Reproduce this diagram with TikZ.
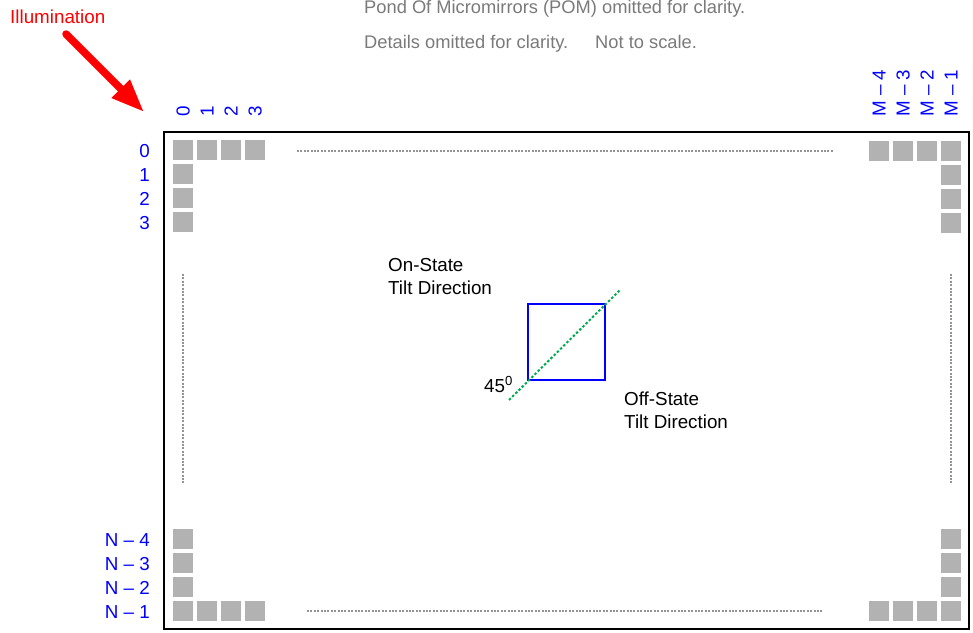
\documentclass[tikz,border=0pt]{standalone}
\usepackage{fontspec}
\setmainfont{Liberation Sans}
\usetikzlibrary{calc, positioning}
\usetikzlibrary{arrows.meta}

\begin{document}
\begin{tikzpicture}[x=1pt,y=-1pt,
  font=\fontsize{18.8}{23}\selectfont,
  lbl/.style={inner sep=0pt,text=labelblue},
  note/.style={inner sep=0pt,anchor=base west,text=notegray,
    font=\fontsize{18.3}{22}\selectfont},
  pixel/.style={fill=pixelgray},
  gap/.style={draw=dotgray,line width=1.2pt,dash pattern=on 2pt off 1.4pt}]
\colorlet{labelblue}{blue}
\colorlet{notegray}{black!52}
\colorlet{dotgray}{black!42}
\colorlet{pixelgray}{black!30}
\definecolor{diaggreen}{RGB}{0,170,80}

\useasboundingbox (0,0) rectangle (973,632);

% Notes above the array.
\node[note] (pom) at (364,13) {Pond Of Micromirrors (POM) omitted for clarity.};
\node[note] (details) at (364,48) {Details omitted for clarity.};
\node[note] (scale) at (595,48) {Not to scale.};

% Illumination comes in at the upper left corner.
\node[inner sep=0pt,anchor=base west,text=red] (illum) at (10,23) {Illumination};
\coordinate (lighttail) at (66,34);
\coordinate (lighthead) at (144,112);
\draw[red,line width=7.5pt,line cap=round,-{Triangle[length=33pt,width=24pt]}]
  (lighttail) -- (lighthead);

% The array outline.
\draw[line width=2.5pt] (164,132) rectangle (969,629);

% Corner pixels.
\foreach \i in {0,1,2,3} {
  \fill[pixel] ({173+24*\i},140) rectangle ++(20,20);
  \fill[pixel] ({869+24*\i},141) rectangle ++(20,20);
  \fill[pixel] ({173+24*\i},601) rectangle ++(20,20);
  \fill[pixel] ({869+24*\i},601) rectangle ++(20,20);
  \fill[pixel] (173,{140+24*\i}) rectangle ++(20,20);
  \fill[pixel] (941,{141+24*\i}) rectangle ++(20,20);
  \fill[pixel] (173,{529+24*\i}) rectangle ++(20,20);
  \fill[pixel] (941,{529+24*\i}) rectangle ++(20,20);
}

% Row and column numbers.
\foreach \i in {0,1,2,3} {
  \node[lbl,anchor=base east] (row\i) at (150,{157+24*\i}) {\i};
  \node[lbl,anchor=base west,rotate=90] (col\i) at ({189.5+24*\i},117) {\i};
}
\foreach \k/\i in {4/0,3/1,2/2,1/3} {
  \node[lbl,anchor=base east] (rowN\k) at (150,{546+24*\i}) {N -- \k};
  \node[lbl,anchor=base west,rotate=90] (colM\k) at ({885.5+24*\i},117) {M -- \k};
}

% Omitted pixels.
\draw[gap] (297,151) -- (833,151);
\draw[gap] (307,611) -- (823,611);
\draw[gap] (183,274) -- (183,484);
\draw[gap] (951,274) -- (951,484);

% One micromirror and its tilt axis.
\draw[blue,line width=2pt] (528,304) rectangle (605,380);
\draw[diaggreen,line width=2pt,dash pattern=on 2.5pt off 2pt] (509,400) -- (620,290);
\node[inner sep=0pt,anchor=base west] (angle) at (484,392) {45\textsuperscript{0}};
\node[inner sep=0pt,anchor=base west,align=left] (onstate) at (388,294)
  {On-State\\Tilt Direction};
\node[inner sep=0pt,anchor=base west,align=left] (offstate) at (624,428)
  {Off-State\\Tilt Direction};
\end{tikzpicture}
\end{document}
